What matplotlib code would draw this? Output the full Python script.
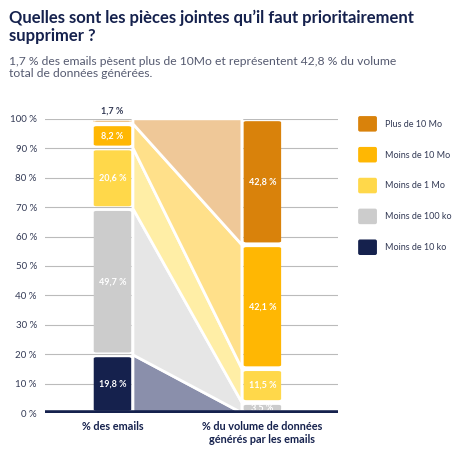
import matplotlib
matplotlib.use("Agg")
import matplotlib.pyplot as plt
from matplotlib.patches import Polygon, FancyBboxPatch

categories = ["Moins de 10 ko", "Moins de 100 ko", "Moins de 1 Mo", "Moins de 10 Mo", "Plus de 10 Mo"]
emails = [19.8, 49.7, 20.6, 8.2, 1.7]
volume = [0.1, 3.5, 11.5, 42.1, 42.8]
labels_e = ["19,8 %", "49,7 %", "20,6 %", "8,2 %", "1,7 %"]
labels_v = ["", "3,5 %", "11,5 %", "42,1 %", "42,8 %"]
colors = ["#15214d", "#cccccc", "#ffd84a", "#ffb703", "#d9820b"]
light = ["#8a8fab", "#e6e6e6", "#ffeea6", "#ffe08a", "#efc898"]
xcats = ["% des emails", "% du volume de données\ngénérés par les emails"]

plt.rcParams['font.family'] = ['Lato', 'DejaVu Sans']
fig = plt.figure(figsize=(4.7, 4.57), dpi=100)
ax = fig.add_axes([0.096, 0.096, 0.623, 0.644])
ax.set_xlim(0, 1); ax.set_ylim(0, 100)
xl, xr, w = 0.23, 0.742, 0.14
navy = "#15214d"

ax.set_yticks(range(0, 101, 10))
ax.set_yticklabels([f"{v} %" for v in range(0, 101, 10)], fontsize=7, color="#333a55")
ax.yaxis.grid(True, color="#bbbbbb", lw=0.8)
ax.set_axisbelow(True)
for s in ax.spines.values(): s.set_visible(False)
ax.tick_params(length=0, pad=6)
ax.set_xticks([xl, xr]); ax.set_xticklabels(xcats, fontsize=7.8, fontweight='bold', color=navy)
ax.axhline(0, color=navy, lw=4, zorder=5)

g = 0.8
be = bv = 0
for i in range(5):
    te, tv = be + emails[i], bv + volume[i]
    ax.add_patch(Polygon([[xl + w/2, be], [xr - w/2, bv], [xr - w/2, tv], [xl + w/2, te]],
                         closed=True, fc=light[i], ec="white", lw=2, zorder=1))
    for x, b, h, lab in [(xl, be, emails[i], labels_e[i]), (xr, bv, volume[i], labels_v[i])]:
        if h < 0.5: continue
        ax.add_patch(FancyBboxPatch((x - w/2 + 0.006, b + g), w - 0.012, max(h - 2*g, 0.2),
                                    boxstyle="round,pad=0,rounding_size=0.01", mutation_aspect=40,
                                    fc=colors[i], ec="none", zorder=3))
        if lab:
            tc = "#333a55" if (i == 4 and x == xl) else "white"
            yy = b + h + 2.5 if (i == 4 and x == xl) else b + h/2
            ax.text(x, yy, lab, ha="center", va="center", fontsize=6.5, fontweight="bold",
                    color=tc, zorder=4)
    be, bv = te, tv

# legend
for k, i in enumerate([4, 3, 2, 1, 0]):
    y = 0.728 - k * 0.0675
    fig.patches.append(FancyBboxPatch((0.762, y - 0.016), 0.04, 0.034, boxstyle="round,pad=0,rounding_size=0.004",
                                      transform=fig.transFigure, fc=colors[i], ec="none"))
    fig.text(0.82, y, categories[i], fontsize=6.5, color="#333a55", va="center")

fig.text(0.02, 0.978, "Quelles sont les pièces jointes qu’il faut prioritairement\nsupprimer ?",
         fontsize=12, fontweight="bold", color=navy, va="top", linespacing=1.1)
fig.text(0.02, 0.878, "1,7 % des emails pèsent plus de 10Mo et représentent 42,8 % du volume\ntotal de données générées.",
         fontsize=8.7, color="#555a70", va="top", linespacing=1.1)
fig.savefig("out.png", dpi=100)
